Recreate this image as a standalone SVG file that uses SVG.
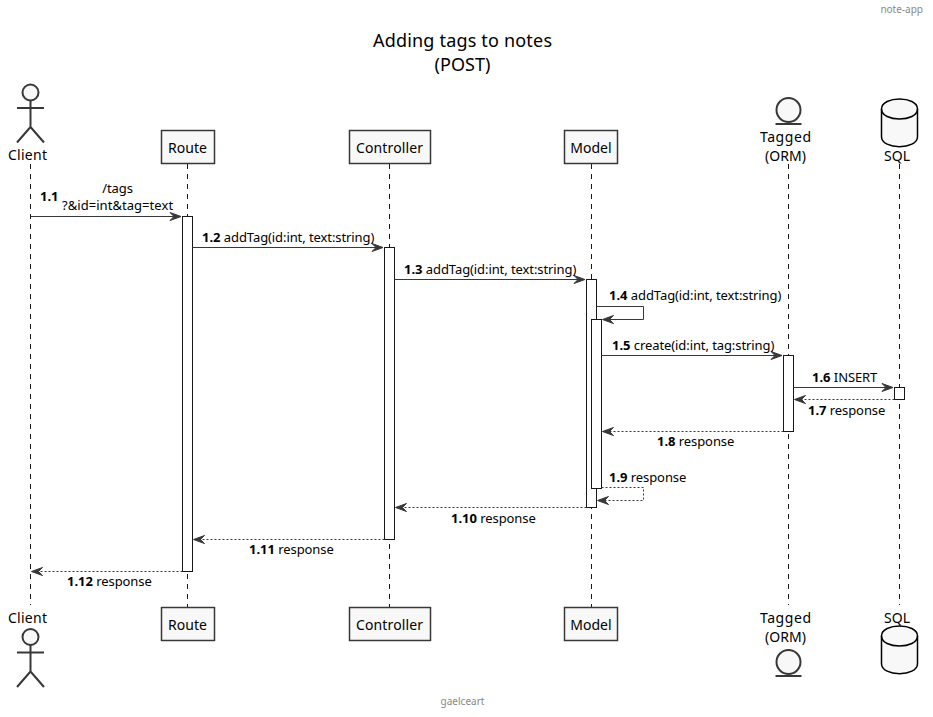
<svg xmlns="http://www.w3.org/2000/svg" width="933" height="717" viewBox="0 0 933 717">
<style>
text{font-family:"Noto Sans","DejaVu Sans",sans-serif;font-size:13px;fill:#000}
.t{font-size:18px;text-anchor:middle}
.n{font-size:14px;text-anchor:middle}
.b{font-weight:700}
.g{font-size:10px;fill:#888}
#labels text{letter-spacing:-.09px}
#labels .b{letter-spacing:0}
.life{stroke:#181818;stroke-width:1;stroke-dasharray:5 5;fill:none}
.box{fill:#F8F8F8;stroke:#383838;stroke-width:1.5}
.act{fill:#fff;stroke:#181818;stroke-width:1}
.a{stroke:#383838;stroke-width:1;fill:none}
.d{stroke:#383838;stroke-width:1;fill:none;stroke-dasharray:2 2}
.h{fill:#383838;stroke:#383838;stroke-width:1}
.ic{fill:#F8F8F8;stroke:#383838;stroke-width:2}
.ln{fill:none;stroke:#383838;stroke-width:2}
.db{fill:#F8F8F8;stroke:#000;stroke-width:1.5}
</style>
<defs>
<path id="ar" class="h" d="M0 0 L-11 -4 L-7 0 L-11 4 Z"/>
<path id="al" class="h" d="M0 0 L11 -4 L7 0 L11 4 Z"/>
<g id="actor"><circle cx="0" cy="-60" r="8" class="ic"/><path class="ln" d="M0 -52V-25.5M-13.5 -44.5H13.5M0 -25.5L-13.5 -10M0 -25.5L13.5 -10"/></g>
<g id="entity"><circle cx="0" cy="0" r="12" class="ic"/><path class="ln" d="M-13 14H13"/></g>
<g id="cyl"><path class="db" d="M-18 0C-18 -13.3 18 -13.3 18 0V27.7C18 41 -18 41 -18 27.7Z"/><path fill="none" stroke="#000" stroke-width="1.5" d="M-18 0C-18 13.3 18 13.3 18 0"/></g>
</defs>

<text x="923" y="13" class="g" text-anchor="end">note-app</text>
<text x="462.5" y="46.5" class="t" textLength="179">Adding tags to notes</text>
<text x="462.5" y="70.5" class="t" textLength="56">(POST)</text>
<text x="462.5" y="705" class="g" text-anchor="middle">gaelceart</text>

<g id="lifelines">
<path class="life" d="M30.5 164V605"/>
<path class="life" d="M187.5 164V607"/>
<path class="life" d="M389.5 164V607"/>
<path class="life" d="M591.5 164V607"/>
<path class="life" d="M788.5 164V605"/>
<path class="life" d="M899.5 164V605"/>
</g>

<g id="client"><use href="#actor" x="30.5" y="152.5"/><text x="27.5" y="160" class="n" textLength="39">Client</text><text x="27.5" y="623" class="n" textLength="39">Client</text><use href="#actor" x="30.5" y="697"/></g>
<g id="route"><rect class="box" x="161.5" y="130.5" width="53" height="33"/><text x="187.5" y="153" class="n">Route</text><rect class="box" x="161.5" y="607.5" width="53" height="33"/><text x="187.5" y="630" class="n">Route</text></g>
<g id="controller"><rect class="box" x="349.5" y="130.5" width="81" height="33"/><text x="389.5" y="153" class="n" textLength="67">Controller</text><rect class="box" x="349.5" y="607.5" width="81" height="33"/><text x="389.5" y="630" class="n" textLength="67">Controller</text></g>
<g id="model"><rect class="box" x="564.5" y="130.5" width="53" height="33"/><text x="591" y="153" class="n">Model</text><rect class="box" x="564.5" y="607.5" width="53" height="33"/><text x="591" y="630" class="n">Model</text></g>
<g id="tagged"><use href="#entity" x="788.5" y="110"/><text x="785.5" y="142" class="n" textLength="51">Tagged</text><text x="785.5" y="161" class="n" textLength="41">(ORM)</text><text x="785.5" y="623" class="n" textLength="51">Tagged</text><text x="785.5" y="642" class="n" textLength="41">(ORM)</text><use href="#entity" x="788.5" y="662"/></g>
<g id="sql"><use href="#cyl" x="899.5" y="109"/><text x="897" y="161" class="n">SQL</text><text x="897" y="623" class="n">SQL</text><use href="#cyl" x="899.5" y="636"/></g>

<g id="activations">
<rect class="act" x="182.5" y="216.5" width="10" height="355"/>
<rect class="act" x="384.5" y="247.5" width="10" height="292"/>
<rect class="act" x="586.5" y="279.5" width="10" height="228"/>
<rect class="act" x="591.5" y="319.5" width="10" height="169"/>
<rect class="act" x="783.5" y="355.5" width="10" height="76"/>
<rect class="act" x="894.5" y="387.5" width="10" height="12"/>
</g>

<g id="connectors">
<path class="a" d="M30.5 216.5H181"/><use href="#ar" x="181" y="216.5"/>
<path class="a" d="M192.5 247.5H383"/><use href="#ar" x="383" y="247.5"/>
<path class="a" d="M394.5 279.5H585"/><use href="#ar" x="585" y="279.5"/>
<path class="a" d="M596.5 306.5H643.5V319.5H603"/><use href="#al" x="602.5" y="319.5"/>
<path class="a" d="M601.5 355.5H782"/><use href="#ar" x="782" y="355.5"/>
<path class="a" d="M793.5 387.5H893"/><use href="#ar" x="893" y="387.5"/>
<path class="d" d="M894.5 399.5H795"/><use href="#al" x="794.5" y="399.5"/>
<path class="d" d="M783.5 431.5H603"/><use href="#al" x="602.5" y="431.5"/>
<path class="d" d="M601.5 487.5H643.5V500.5H598"/><use href="#al" x="597.5" y="500.5"/>
<path class="d" d="M586.5 507.5H396"/><use href="#al" x="395.5" y="507.5"/>
<path class="d" d="M384.5 539.5H194"/><use href="#al" x="193.5" y="539.5"/>
<path class="d" d="M182.5 571.5H32"/><use href="#al" x="31.5" y="571.5"/>
</g>

<g id="labels">
<text x="40" y="201" class="b">1.1</text>
<text x="117.5" y="193" text-anchor="middle">/tags</text>
<text x="117.5" y="210" text-anchor="middle" textLength="111">?&amp;id=int&amp;tag=text</text>
<text x="202" y="242"><tspan class="b">1.2</tspan> addTag(id:int, text:string)</text>
<text x="404" y="274"><tspan class="b">1.3</tspan> addTag(id:int, text:string)</text>
<text x="609" y="300"><tspan class="b">1.4</tspan> addTag(id:int, text:string)</text>
<text x="612" y="350"><tspan class="b">1.5</tspan> create(id:int, tag:string)</text>
<text x="812" y="382"><tspan class="b">1.6</tspan> INSERT</text>
<text x="808" y="415"><tspan class="b">1.7</tspan> response</text>
<text x="657" y="446"><tspan class="b">1.8</tspan> response</text>
<text x="609" y="482"><tspan class="b">1.9</tspan> response</text>
<text x="451" y="523"><tspan class="b">1.10</tspan> response</text>
<text x="249" y="554"><tspan class="b">1.11</tspan> response</text>
<text x="67" y="586"><tspan class="b">1.12</tspan> response</text>
</g>
</svg>
